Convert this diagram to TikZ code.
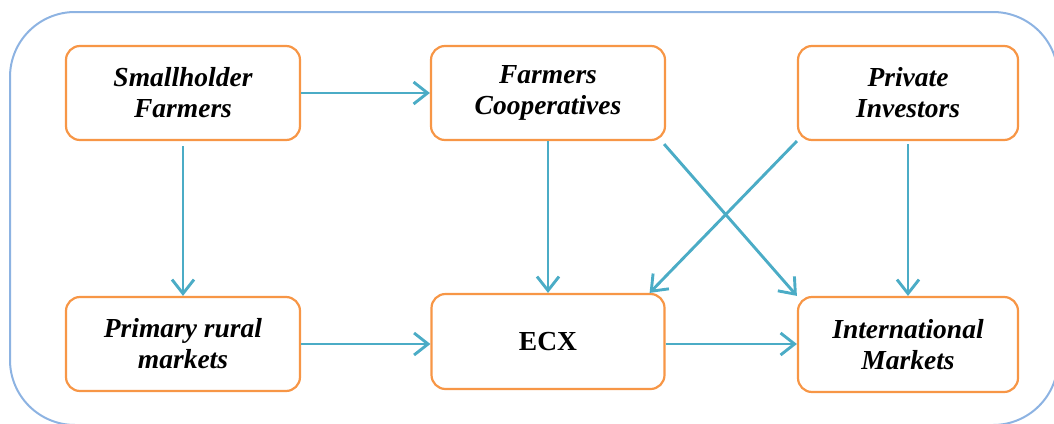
\documentclass[tikz,border=0pt]{standalone}
\usepackage{fontspec}
\setmainfont{Liberation Serif}
\usetikzlibrary{arrows.meta,calc}

\definecolor{boxorange}{HTML}{F79646}
\definecolor{flowteal}{HTML}{4BACC6}
\definecolor{frameblue}{HTML}{8DB3E2}

\tikzset{
  actor/.style={draw=boxorange, line width=2.2pt, rounded corners=14pt,
    fill=white, align=center, inner sep=0pt,
    font=\fontsize{27.5}{31}\selectfont\bfseries\itshape},
  flow/.style={draw=flowteal, line width=2.9pt,
    -{Straight Barb[length=14pt,width=22pt,line width=2.9pt]}},
}

\begin{document}
\begin{tikzpicture}[x=1pt,y=-1pt]
  \useasboundingbox (0,0) rectangle (1054,423);
  \begin{scope}
    \clip (0,0) rectangle (1054,423);
    \draw[frameblue, line width=2pt, rounded corners=65pt] (10,12) rectangle (1058,425);
  \end{scope}

  % upper row
  \node[actor, minimum width=234pt, minimum height=94pt] (small) at (183,93) {Smallholder\\Farmers};
  \node[actor, minimum width=234pt, minimum height=94pt] (coop) at (548,93) {Farmers\\Cooperatives};
  \node[actor, minimum width=220pt, minimum height=94pt] (priv) at (908,93) {Private\\Investors};

  % lower row
  \node[actor, minimum width=234pt, minimum height=94pt] (rural) at (183,344) {Primary rural\\markets};
  \node[actor, minimum width=233pt, minimum height=95pt, font=\fontsize{27.5}{31}\selectfont\bfseries] (ecx) at (548,341.5) {ECX};
  \node[actor, minimum width=220pt, minimum height=95pt] (intl) at (908,344.5) {International\\Markets};

  % flows
  \draw[flow] (small.east) -- (coop.west);
  \draw[flow, shorten <=5pt] (small.south) -- (rural.north);
  \draw[flow] (coop.south) -- (ecx.north);
  \draw[flow, shorten <=3pt] (priv.south) -- (intl.north);
  \draw[flow] ($(coop.south east)+(-2,3)$) -- (intl.north west);
  \draw[flow] (priv.south west) -- ($(ecx.north east)+(-16,0)$);
  \draw[flow] (rural.east) -- (rural.east -| ecx.west);
  \draw[flow] (ecx.east |- rural.east) -- (rural.east -| intl.west);
\end{tikzpicture}
\end{document}
